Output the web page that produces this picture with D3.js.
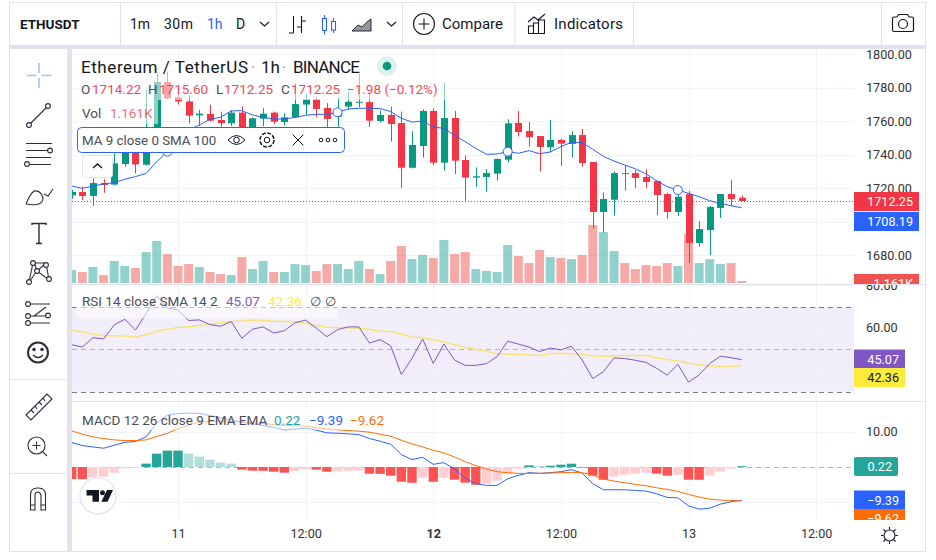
<!DOCTYPE html>
<html>
<head>
<meta charset="utf-8">
<script src="https://cdnjs.cloudflare.com/ajax/libs/d3/7.8.5/d3.min.js"></script>
<style>
  html, body { margin: 0; padding: 0; background: #fff; }
  svg { display: block; font-family: Roboto, sans-serif; }
  .axis text { font-family: Roboto, sans-serif; font-size: 12.6px; fill: #333; }
  .axis .domain, .axis line { display: none; }
</style>
</head>
<body>
<div id="chart"></div>
<script>
// hours counted from 11 00:00, one candle per hour
const hours = d3.range(-10, 54);

const opens = [1715.6,1717.6,1715.2,1723.0,1722.0,1734.3,1741.1,1733.9,1741.7,1783.3,1774.1,1771.7,1763.4,1764.2,1760.6,1758.6,1765.0,1755.6,1761.4,1765.0,1759.4,1762.2,1769.8,1772.9,1767.8,1762.6,1768.6,1770.9,1771.3,1760.0,1763.6,1758.8,1732.1,1745.1,1766.0,1735.1,1761.8,1736.7,1726.2,1726.6,1728.6,1736.9,1758.8,1754.0,1751.0,1744.3,1748.7,1746.3,1751.6,1735.5,1705.7,1713.0,1728.9,1728.9,1726.6,1724.2,1716.4,1705.7,1716.4,1687.2,1694.9,1708.1,1716.4,1714.22];
const closes = [1717.6,1715.2,1723.0,1721.8,1734.7,1741.1,1734.1,1741.1,1783.3,1773.5,1771.7,1763.2,1764.4,1760.2,1758.8,1765.0,1756.0,1761.6,1764.4,1759.6,1762.2,1770.1,1772.9,1767.2,1761.2,1766.6,1771.5,1771.5,1760.2,1763.6,1758.2,1732.1,1745.7,1766.0,1735.1,1761.8,1736.3,1726.2,1727.0,1728.9,1737.3,1758.6,1753.4,1750.4,1744.5,1748.7,1746.5,1751.6,1734.9,1705.7,1713.4,1728.9,1728.4,1726.0,1723.6,1715.8,1705.7,1714.8,1687.2,1695.5,1708.7,1716.4,1713.4,1712.25];
const highs = [1718.8,1720.8,1725.8,1725.2,1740.7,1744.7,1743.7,1778.5,1788.5,1789.5,1779.7,1775.5,1766.6,1769.6,1765.6,1766.6,1768.6,1762.2,1767.6,1765.6,1764.6,1782.5,1776.5,1774.1,1770.6,1774.1,1777.3,1788.5,1776.5,1766.2,1768.6,1765.6,1754.0,1767.0,1767.6,1782.9,1766.0,1739.5,1732.3,1731.3,1737.7,1761.0,1766.0,1759.4,1751.0,1760.6,1749.4,1754.0,1755.2,1735.5,1717.4,1729.9,1733.7,1730.8,1731.1,1724.2,1717.2,1720.8,1718.2,1700.3,1709.3,1716.4,1724.8,1715.6];
const lows = [1713.6,1712.8,1709.4,1717.2,1721.6,1732.7,1728.7,1733.5,1741.1,1773.1,1769.8,1758.6,1757.0,1759.6,1756.6,1757.0,1754.6,1754.6,1757.0,1758.2,1757.4,1761.6,1763.6,1762.2,1756.0,1756.6,1766.6,1768.2,1756.6,1759.0,1747.7,1720.0,1731.7,1738.1,1733.7,1730.4,1728.4,1711.8,1720.6,1717.8,1724.4,1735.3,1750.7,1744.7,1729.8,1741.3,1733.3,1738.1,1732.7,1695.7,1693.3,1703.5,1718.4,1720.0,1720.0,1703.9,1701.5,1703.3,1675.2,1685.0,1680.0,1702.1,1709.4,1712.25];
// volume in thousands
const volumes = [7.5,6.4,9.3,4.6,12.8,9.9,8.7,18.0,24.4,16.8,9.9,11.0,9.3,6.4,5.2,4.6,15.1,8.1,12.8,6.4,6.4,11.0,10.4,7.0,11.0,11.0,8.1,12.8,8.1,5.2,12.8,21.5,13.9,16.3,14.5,25.0,16.8,18.0,8.1,7.0,6.4,22.1,15.7,11.6,19.2,15.1,14.5,13.9,16.3,33.7,29.6,18.6,11.6,8.1,10.4,9.9,11.6,9.9,28.4,11.6,13.9,11.0,11.6,1.161];
const maValues = [1721.2,1719.8,1721.2,1722.4,1723.2,1725.2,1726.8,1728.7,1735.7,1741.7,1748.7,1754.6,1757.6,1761.0,1762.2,1766.0,1766.2,1763.6,1762.2,1761.2,1761.2,1762.2,1763.4,1764.0,1764.0,1765.2,1767.2,1767.6,1767.6,1767.4,1765.6,1761.6,1759.4,1760.0,1756.4,1755.6,1751.4,1747.7,1743.7,1740.1,1740.3,1741.7,1740.7,1742.3,1740.5,1741.5,1744.7,1747.3,1747.1,1743.1,1738.9,1736.1,1733.7,1731.5,1728.4,1724.4,1720.8,1718.8,1716.8,1714.8,1712.4,1710.9,1709.4,1708.19];
const rsiValues = [52.1,51.0,55.4,54.9,61.4,64.1,59.0,66.7,75.1,69.4,68.4,63.5,63.8,61.6,60.8,63.0,55.2,59.4,60.5,57.6,58.7,62.4,63.7,59.9,55.9,59.2,60.5,60.5,52.9,54.5,51.6,38.1,45.7,54.8,43.3,52.4,44.9,42.4,42.4,43.2,46.5,53.8,52.4,51.0,48.9,50.5,49.7,51.4,44.9,36.2,39.4,45.9,45.6,44.8,43.8,41.0,37.8,42.9,34.5,37.9,43.3,46.7,46.0,45.07];
const rsiSma = [58.9,58.1,57.1,56.3,56.3,56.2,55.6,56.8,58.4,59.4,60.2,60.6,61.1,61.6,62.4,63.0,63.3,63.7,63.5,63.2,63.0,62.9,62.2,61.1,60.3,60.2,60.0,59.9,59.4,58.6,58.3,57.0,55.7,55.4,54.4,53.5,52.1,50.8,50.0,49.0,47.8,47.6,47.6,47.3,47.0,47.9,48.1,47.9,47.6,46.8,46.7,46.8,47.0,47.0,47.0,46.0,45.1,44.6,43.5,42.7,42.1,41.9,41.9,42.36];
const macdLine = [6.92,6.07,5.69,5.31,6.16,7.01,7.20,8.53,12.51,14.69,15.17,15.26,15.17,14.60,13.93,13.27,12.70,12.23,11.75,11.18,10.52,10.71,11.00,10.43,9.67,9.57,9.38,9.19,8.06,7.30,6.45,3.51,2.09,2.75,0.76,1.23,-0.57,-3.13,-4.74,-5.21,-5.21,-3.32,-2.37,-1.61,-1.80,-1.61,-1.33,-0.76,-1.71,-4.74,-6.45,-6.45,-6.45,-6.64,-6.82,-7.58,-8.63,-8.72,-11.00,-11.94,-11.66,-10.52,-9.86,-9.39];
const signalLine = [10.24,9.29,8.53,8.06,7.68,7.49,7.49,7.68,8.63,9.57,10.81,11.94,12.70,12.89,12.99,12.89,12.80,12.51,12.32,12.04,11.75,11.66,11.56,11.09,10.81,10.52,10.33,10.14,9.86,9.29,8.72,7.58,6.54,5.69,4.74,3.98,2.84,1.52,0.38,-0.57,-1.33,-1.61,-1.80,-1.80,-1.80,-1.71,-1.61,-1.52,-1.61,-2.27,-3.41,-3.98,-4.45,-4.93,-5.31,-5.88,-6.35,-6.92,-7.77,-8.53,-9.10,-9.38,-9.48,-9.62];
const histogram = [-3.41,-3.45,-2.94,-2.75,-1.61,-0.38,-0.30,0.95,3.79,4.64,4.65,3.79,2.94,2.09,1.23,0.95,-0.76,-1.04,-1.08,-1.33,-1.61,-1.04,-0.66,-0.76,-1.33,-1.30,-1.04,-1.00,-1.90,-1.95,-2.46,-4.17,-4.45,-3.03,-4.17,-3.03,-3.60,-4.45,-5.02,-4.74,-3.89,-1.90,-0.47,0.47,0.28,0.38,0.66,0.95,-0.19,-2.46,-3.60,-2.75,-2.18,-1.90,-1.61,-1.90,-2.46,-2.18,-3.60,-3.62,-2.46,-1.33,-0.47,0.22];

const priceGridTicks = [1680, 1700, 1720, 1740, 1760, 1780, 1800];
const priceLabelTicks = [1680, 1720, 1740, 1760, 1780, 1800]; // 1700 sits under the blue tag
const rsiTicks = [40, 60, 80];
const macdTicks = [-10, 10];
const timeTicks = [0, 12, 24, 36, 48, 60];
const timeLabels = ["11", "12:00", "12", "12:00", "13", "12:00"];
const maMarkerEvery = 16;

const UP = "#089981", DOWN = "#f23645", GRID = "#f0f3fa", BAND = "#e0e3eb", INK = "#131722", SOFT = "#4a4d57";
const PLOT_LEFT = 72, PLOT_RIGHT = 854, AXIS_RIGHT = 924;
const PRICE_TOP = 49, PRICE_BOTTOM = 284, RSI_BOTTOM = 401, MACD_TOP = 402, MACD_BOTTOM = 520;

const svg = d3.select("#chart").append("svg").attr("width", 936).attr("height", 560);

const x = d3.scaleLinear().domain([0, 48]).range([178, 688.5]);
const yPrice = d3.scaleLinear().domain([1680, 1800]).range([255, 54]);
const yVolume = d3.scaleLinear().domain([0, 100]).range([283, 111]);
const yRsi = d3.scaleLinear().domain([30, 70]).range([391.7, 306.7]);
const yMacd = d3.scaleLinear().domain([-10, 10]).range([502.3, 431.7]);

const defs = svg.append("defs");
function addClip(id, x0, y0, x1, y1) {
  defs.append("clipPath").attr("id", id).append("rect").attr("x", x0).attr("y", y0).attr("width", x1 - x0).attr("height", y1 - y0);
}
addClip("clip-price", PLOT_LEFT, PRICE_TOP, PLOT_RIGHT, PRICE_BOTTOM);
addClip("clip-rsi", PLOT_LEFT, PRICE_BOTTOM, PLOT_RIGHT, RSI_BOTTOM);
addClip("clip-macd", PLOT_LEFT, MACD_TOP, PLOT_RIGHT, MACD_BOTTOM);
addClip("clip-axis-price", PLOT_RIGHT, PRICE_TOP, AXIS_RIGHT, PRICE_BOTTOM);
addClip("clip-axis-rsi", PLOT_RIGHT, PRICE_BOTTOM, AXIS_RIGHT, RSI_BOTTOM);
addClip("clip-axis-macd", PLOT_RIGHT, MACD_TOP, AXIS_RIGHT, MACD_BOTTOM);

function text(g, px, py, str, fill, size, anchor, weight) {
  return g.append("text").attr("x", px).attr("y", py).attr("fill", fill || INK)
    .attr("font-size", size || 13).attr("text-anchor", anchor || "start")
    .attr("font-weight", weight || "normal").text(str);
}

function line(g, x1, y1, x2, y2, stroke, w, dash) {
  return g.append("line").attr("x1", x1).attr("y1", y1).attr("x2", x2).attr("y2", y2)
    .attr("stroke", stroke || INK).attr("stroke-width", w || 1).attr("stroke-dasharray", dash || null);
}

// panes: grids first so the marks sit on top
function hGrid(g, scale, ticks) {
  g.selectAll("line.grid").data(ticks).enter().append("line").attr("class", "grid")
    .attr("x1", PLOT_LEFT).attr("x2", PLOT_RIGHT)
    .attr("y1", (d) => Math.round(scale(d)) + 0.5).attr("y2", (d) => Math.round(scale(d)) + 0.5)
    .attr("stroke", GRID);
}
function vGrid(g, y0, y1) {
  g.selectAll("line.vgrid").data(timeTicks).enter().append("line").attr("class", "vgrid")
    .attr("x1", (d) => Math.round(x(d)) + 0.5).attr("x2", (d) => Math.round(x(d)) + 0.5)
    .attr("y1", y0).attr("y2", y1).attr("stroke", GRID);
}

// ---- price pane
const pricePane = svg.append("g").attr("clip-path", "url(#clip-price)");
hGrid(pricePane, yPrice, priceGridTicks);
vGrid(pricePane, PRICE_TOP, PRICE_BOTTOM);

pricePane.selectAll("rect.vol").data(hours).enter().append("rect").attr("class", "vol")
  .attr("x", (h) => x(h) - 4.5).attr("width", 9)
  .attr("y", (h, i) => yVolume(volumes[i])).attr("height", (h, i) => yVolume(0) - yVolume(volumes[i]))
  .attr("fill", (h, i) => (closes[i] >= opens[i] ? "#26a69a" : "#ef5350")).attr("opacity", 0.5);

const candles = pricePane.selectAll("g.candle").data(hours).enter().append("g").attr("class", "candle");
candles.append("line")
  .attr("x1", (h) => Math.round(x(h)) + 0.5).attr("x2", (h) => Math.round(x(h)) + 0.5)
  .attr("y1", (h, i) => yPrice(highs[i])).attr("y2", (h, i) => yPrice(lows[i]))
  .attr("stroke", (h, i) => (closes[i] >= opens[i] ? UP : DOWN));
candles.append("rect")
  .attr("x", (h) => Math.round(x(h)) - 3).attr("width", 7)
  .attr("y", (h, i) => yPrice(Math.max(opens[i], closes[i])))
  .attr("height", (h, i) => Math.max(1, Math.abs(yPrice(opens[i]) - yPrice(closes[i]))))
  .attr("fill", (h, i) => (closes[i] >= opens[i] ? UP : DOWN));

const lineOf = (values, scale) => d3.line().x((h) => x(h)).y((h, i) => scale(values[i]))(hours);

pricePane.append("path").attr("d", lineOf(maValues, yPrice)).attr("fill", "none").attr("stroke", "#2962ff").attr("stroke-width", 1);
pricePane.selectAll("circle.ma-marker").data(hours.filter((h, i) => (i + 7) % maMarkerEvery === 0)).enter()
  .append("circle").attr("class", "ma-marker")
  .attr("cx", (h) => x(h)).attr("cy", (h) => yPrice(maValues[hours.indexOf(h)])).attr("r", 4.5)
  .attr("fill", "#fff").attr("stroke", "#2962ff").attr("stroke-width", 1);
line(pricePane, PLOT_LEFT, Math.round(yPrice(closes[closes.length - 1])) + 0.5, PLOT_RIGHT, Math.round(yPrice(closes[closes.length - 1])) + 0.5, DOWN, 1, "1 2");

// legend of the price pane, with the usual half see-through backing
const veil = svg.append("g").attr("fill", "#fff").attr("opacity", 0.55);
veil.append("rect").attr("x", 76).attr("y", 54).attr("width", 326).attr("height", 26);
veil.append("rect").attr("x", 76).attr("y", 80).attr("width", 369).attr("height", 20);
veil.append("rect").attr("x", 76).attr("y", 100).attr("width", 82).attr("height", 24);

const legend = svg.append("g");
text(legend, 81, 72.5, "Ethereum / TetherUS", INK, 17).attr("textLength", 167);
text(legend, 251, 72.5, "·", "#9598a1", 16);
text(legend, 261, 72.5, "1h", INK, 17);
text(legend, 282, 72.5, "·", "#9598a1", 16);
text(legend, 293, 72.5, "BINANCE", INK, 17).attr("textLength", 67);
legend.append("circle").attr("cx", 387).attr("cy", 66).attr("r", 10).attr("fill", "#089981").attr("opacity", 0.14);
legend.append("circle").attr("cx", 387).attr("cy", 66).attr("r", 4.3).attr("fill", UP);

[["O", 81, "1714.22", 92], ["H", 148, "1715.60", 159], ["L", 216, "1712.25", 224], ["C", 281, "1712.25", 291]].forEach(([k, kx, v, vx]) => {
  text(legend, kx, 94, k, SOFT, 13.5);
  text(legend, vx, 94, v, DOWN, 13.5).attr("opacity", 0.9);
});
text(legend, 347, 94, "−1.98 (−0.12%)", DOWN, 13.5).attr("opacity", 0.9);
text(legend, 82, 118, "Vol", SOFT, 13.5);
text(legend, 110, 118, "1.161K", DOWN, 13.5).attr("opacity", 0.75);

legend.append("rect").attr("x", 77.5).attr("y", 127.5).attr("width", 267).attr("height", 25).attr("rx", 4)
  .attr("fill", "#fff").attr("stroke", "#2962ff");
text(legend, 82, 145, "MA 9 close 0 SMA 100", SOFT, 13.3);

// eye, gear, cross and dots of the selected study
const studyIcons = legend.append("g").attr("fill", "none").attr("stroke", INK).attr("stroke-width", 1);
studyIcons.append("path").attr("d", "M228 140q8.5-9 17 0q-8.5 9-17 0z");
studyIcons.append("circle").attr("cx", 236.5).attr("cy", 140).attr("r", 2.8);
studyIcons.append("circle").attr("cx", 267).attr("cy", 140).attr("r", 7).attr("stroke-width", 1.5).attr("stroke-dasharray", "4 1.5");
studyIcons.append("circle").attr("cx", 267).attr("cy", 140).attr("r", 2.8);
studyIcons.append("path").attr("d", "M292.5 134.5l11 11m0-11l-11 11");
[321, 328, 335].forEach((c) => studyIcons.append("circle").attr("cx", c).attr("cy", 140).attr("r", 1.8));

legend.append("rect").attr("x", 82.5).attr("y", 155.5).attr("width", 30).attr("height", 22).attr("rx", 3)
  .attr("fill", "#fff").attr("stroke", "#e0e3eb");
legend.append("path").attr("d", "M93 168l4.5-4l4.5 4").attr("fill", "none").attr("stroke", INK).attr("stroke-width", 1.4);

// ---- RSI pane
const rsiPane = svg.append("g").attr("clip-path", "url(#clip-rsi)");
rsiPane.append("rect").attr("x", PLOT_LEFT).attr("width", PLOT_RIGHT - PLOT_LEFT)
  .attr("y", yRsi(70)).attr("height", yRsi(30) - yRsi(70)).attr("fill", "#7e57c2").attr("opacity", 0.1);
hGrid(rsiPane, yRsi, rsiTicks);
vGrid(rsiPane, PRICE_BOTTOM, RSI_BOTTOM);
line(rsiPane, PLOT_LEFT, Math.round(yRsi(70)) + 0.5, PLOT_RIGHT, Math.round(yRsi(70)) + 0.5, "#787b86", 1, "5 4");
line(rsiPane, PLOT_LEFT, Math.round(yRsi(50)) + 0.5, PLOT_RIGHT, Math.round(yRsi(50)) + 0.5, "#b2b5be", 1, "5 4");
line(rsiPane, PLOT_LEFT, Math.round(yRsi(30)) + 0.5, PLOT_RIGHT, Math.round(yRsi(30)) + 0.5, "#787b86", 1, "5 4");
rsiPane.append("path").attr("d", lineOf(rsiSma, yRsi)).attr("fill", "none").attr("stroke", "#f6e27a").attr("stroke-width", 1.5);
rsiPane.append("path").attr("d", lineOf(rsiValues, yRsi)).attr("fill", "none").attr("stroke", "#7e57c2").attr("stroke-width", 1);

svg.append("rect").attr("x", 76).attr("y", 296).attr("width", 262).attr("height", 22).attr("fill", "#fff").attr("opacity", 0.55);
text(svg, 82, 306, "RSI 14 close SMA 14 2", SOFT, 13.5);
text(svg, 226, 306, "45.07", "#7e57c2", 13.5);
text(svg, 268, 306, "42.36", "#ffeb3b", 13.5);
text(svg, 310, 306, "∅", SOFT, 13);
text(svg, 325, 306, "∅", SOFT, 13);

// ---- MACD pane
const macdPane = svg.append("g").attr("clip-path", "url(#clip-macd)");
hGrid(macdPane, yMacd, macdTicks);
vGrid(macdPane, MACD_TOP, MACD_BOTTOM);
line(macdPane, PLOT_LEFT, Math.round(yMacd(0)) + 0.5, PLOT_RIGHT, Math.round(yMacd(0)) + 0.5, "#b2b5be", 1, "5 4");

function histColor(d, i) {
  const prev = i > 0 ? histogram[i - 1] : d + 1;
  if (d >= 0) return d > prev ? "#26a69a" : "#b2dfdb";
  return d < prev ? "#ff5252" : "#ffcdd2";
}
macdPane.selectAll("rect.hist").data(histogram).enter().append("rect").attr("class", "hist")
  .attr("x", (d, i) => x(hours[i]) - 4.7).attr("width", 9.4)
  .attr("y", (d) => Math.min(yMacd(0), yMacd(d))).attr("height", (d) => Math.abs(yMacd(d) - yMacd(0)))
  .attr("fill", histColor);
macdPane.append("path").attr("d", lineOf(macdLine, yMacd)).attr("fill", "none").attr("stroke", "#2962ff").attr("stroke-width", 1);
macdPane.append("path").attr("d", lineOf(signalLine, yMacd)).attr("fill", "none").attr("stroke", "#ff6d00").attr("stroke-width", 1);

svg.append("rect").attr("x", 76).attr("y", 409).attr("width", 314).attr("height", 21).attr("fill", "#fff").attr("opacity", 0.55);
text(svg, 82, 425, "MACD 12 26 close 9 EMA EMA", SOFT, 13.5);
text(svg, 274, 425, "0.22", "#26a69a", 13.5);
text(svg, 309, 425, "−9.39", "#2962ff", 13.5);
text(svg, 350, 425, "−9.62", "#ff6d00", 13.5);

// TradingView badge
const badge = svg.append("g");
badge.append("circle").attr("cx", 98).attr("cy", 496).attr("r", 18).attr("fill", "#fff").attr("stroke", "#e0e3eb").attr("stroke-width", 1.2);
badge.append("path").attr("fill", INK).attr("d", "M86.500 490H99V501.700H92.500V495.500H86.500zM107 490h6l-5.500 11.700h-6.200z");
badge.append("circle").attr("cx", 102.500).attr("cy", 492.700).attr("r", 2.500).attr("fill", INK);

// ---- axes, clipped to their own pane
const axisPrice = svg.append("g").attr("clip-path", "url(#clip-axis-price)").append("g")
  .attr("class", "axis").attr("transform", "translate(863,0)")
  .call(d3.axisRight(yPrice).tickValues(priceLabelTicks).tickSize(0).tickFormat(d3.format(".2f")));
const axisRsi = svg.append("g").attr("clip-path", "url(#clip-axis-rsi)").append("g")
  .attr("class", "axis").attr("transform", "translate(863,0)")
  .call(d3.axisRight(yRsi).tickValues([60, 80]).tickSize(0).tickFormat(d3.format(".2f")));
const axisMacd = svg.append("g").attr("clip-path", "url(#clip-axis-macd)").append("g")
  .attr("class", "axis").attr("transform", "translate(863,0)")
  .call(d3.axisRight(yMacd).tickValues([10]).tickSize(0).tickFormat(d3.format(".2f")));
const axisTime = svg.append("g").attr("class", "axis").attr("transform", "translate(0,526)")
  .call(d3.axisBottom(x).tickValues(timeTicks).tickSize(0).tickFormat((d, i) => timeLabels[i]));
axisTime.selectAll("text").attr("font-weight", (d, i) => (timeLabels[i] === "12" ? "bold" : "normal"));

// last-value tags on the right; tags that would collide are pushed apart, so they take a centre of their own
function tag(clip, cy, fill, color, width, str, rounded) {
  const g = svg.append("g").attr("clip-path", clip);
  g.append("rect").attr("x", PLOT_RIGHT).attr("y", cy - 9.5).attr("width", width).attr("height", 19)
    .attr("fill", fill).attr("rx", rounded ? 2 : 0);
  g.append("text").attr("x", PLOT_RIGHT + width - 6).attr("y", cy + 4.5).attr("text-anchor", "end")
    .attr("font-size", 12.6).attr("fill", color).text(str);
}
tag("url(#clip-axis-price)", 201.5, DOWN, "#fff", 65, "1712.25");
tag("url(#clip-axis-price)", 221.5, "#2962ff", "#fff", 65, "1708.19");
tag("url(#clip-axis-price)", 283.5, "#ef5350", "#fff", 65, "1.161K");
tag("url(#clip-axis-rsi)", 359, "#7e57c2", "#fff", 51, "45.07");
tag("url(#clip-axis-rsi)", 377.5, "#ffeb3b", INK, 51, "42.36");
tag("url(#clip-axis-macd)", 466.5, "#26a69a", "#fff", 44, "0.22", true);
tag("url(#clip-axis-macd)", 500, "#2962ff", "#fff", 51, "−9.39");
tag("url(#clip-axis-macd)", 518.5, "#ff6d00", "#fff", 51, "−9.62");

// ---- frame and toolbars
svg.append("rect").attr("x", 67).attr("y", 45).attr("width", 5).attr("height", 507).attr("fill", BAND);
svg.append("rect").attr("x", 10).attr("y", 45).attr("width", 916).attr("height", 4).attr("fill", BAND);
line(svg, 72, 284.5, 925, 284.5, BAND);
line(svg, 72, 401.5, 925, 401.5, BAND);
svg.append("rect").attr("x", 9.5).attr("y", 2.5).attr("width", 916).attr("height", 549).attr("fill", "none").attr("stroke", BAND);
[120, 276, 402, 514.5, 633, 881].forEach((d) => line(svg, d + 0.5, 3, d + 0.5, 45, BAND));
line(svg, 10, 379.5, 67, 379.5, BAND);
line(svg, 10, 473.5, 67, 473.5, BAND);

const topBar = svg.append("g");
text(topBar, 20, 29, "ETHUSDT", INK, 13.5, "start", "bold");
text(topBar, 130, 29, "1m", INK, 14).attr("textLength", 20);
text(topBar, 164, 29, "30m", INK, 14).attr("textLength", 29);
text(topBar, 207, 29, "1h", "#2962ff", 14);
text(topBar, 236, 29, "D", INK, 14);
text(topBar, 442, 29, "Compare", INK, 15).attr("textLength", 61);
text(topBar, 554, 29, "Indicators", INK, 15).attr("textLength", 69);

const topIcons = topBar.append("g").attr("fill", "none").attr("stroke", INK).attr("stroke-width", 1.1);
topIcons.append("path").attr("d", "M260 22l4.5 4l4.5-4M387 22l4.5 4l4.5-4");
topIcons.append("path").attr("d", "M293.5 16v17M289 33h4.5M301.5 16v17M301.5 21h4.5M297 27h4.5");
topIcons.append("g").attr("stroke", "#2962ff").call((g) => {
  g.append("rect").attr("x", 322.5).attr("y", 18.5).attr("width", 4).attr("height", 12);
  g.append("path").attr("d", "M324.5 15v3.5M324.5 30.5v4M333.5 18v3M333.5 30v3");
  g.append("rect").attr("x", 331.5).attr("y", 21.5).attr("width", 4).attr("height", 8.5);
});
topIcons.append("path").attr("fill", "#9598a1").attr("stroke-width", 0.9).attr("d", "M352 31l6-6l4 2l5-5l4-3v12z");
topIcons.append("circle").attr("cx", 424).attr("cy", 24).attr("r", 10.5);
topIcons.append("path").attr("d", "M424 18.5v11M418.5 24h11");
topIcons.append("path").attr("d", "M528.5 33v-7h5v7M533.5 33v-10h5v10M538.5 33v-13h6v13M528 33.5h17M528 22l6-5l4 3l7-6");
topIcons.append("path").attr("stroke-width", 1.2).attr("d", "M892.5 18.5q0-1.5 1.5-1.5h3l1.5-2.5h9l1.5 2.5h3q1.5 0 1.5 1.5v11.5q0 1.5-1.5 1.5h-18q-1.5 0-1.5-1.5z");
topIcons.append("circle").attr("cx", 903).attr("cy", 24).attr("r", 4.5).attr("stroke-width", 1.2);

// left drawing tools
const tools = svg.append("g").attr("fill", "none").attr("stroke", "#2a2e39").attr("stroke-width", 1.1);
const knob = (px, py) => tools.append("circle").attr("cx", px).attr("cy", py).attr("r", 2.4).attr("fill", "#fff");
tools.append("path").attr("stroke", "#a8bdf0").attr("stroke-width", 1.6).attr("d", "M39 63v10M39 78v10M26.500 75.500h10M41.500 75.500h10");
tools.append("path").attr("d", "M30 124l17-17"); knob(29, 125); knob(48, 106);
tools.append("path").attr("d", "M26 143.500h26M26 150.500h22M26 157.500h25M30 164.500h21"); knob(50, 150.5); knob(27, 164);
tools.append("path").attr("d", "M26 204q17 3 17-6q-2-8-9-7q-4 3-8 13M44 194l4 2l5-7");
tools.append("path").attr("stroke-width", 1.4).attr("d", "M32 225v-1.500h14v1.500M39 224v20M36 243.500h6");
tools.append("path").attr("d", "M29 282l4-19l13-0l3 17M34 262l3 9l12 9M46 263l-9 8l-8 11"); knob(29, 282); knob(33, 263); knob(46, 265); knob(37, 271); knob(49, 279);
tools.append("path").attr("d", "M30 304h20M30 316h16M30 323h20M34 316l12-9").attr("stroke-width", 1.1);
knob(28, 304); knob(28, 316); knob(48, 315.5); knob(28, 323);
tools.append("circle").attr("cx", 38).attr("cy", 352.500).attr("r", 10).attr("stroke-width", 2);
tools.append("path").attr("stroke-width", 1.6).attr("d", "M33 355q5 5 10 0");
tools.append("circle").attr("cx", 34).attr("cy", 349.500).attr("r", 1.2).attr("fill", "#2a2e39");
tools.append("circle").attr("cx", 42).attr("cy", 349.500).attr("r", 1.2).attr("fill", "#2a2e39");
tools.append("path").attr("d", "M26 415l21-21l5 5l-21 21zM31 410l3 3M35 406l2 3M39 402l3 3M43 398l2 3");
tools.append("circle").attr("cx", 36.500).attr("cy", 445.500).attr("r", 8.500);
tools.append("path").attr("d", "M32.500 445.500h8M36.500 441.500v8M43 452l4 4");
tools.append("path").attr("d", "M30.500 510v-15q0-7 7-7h1q7 0 7 7v15h-4.500v-15q-1-3-3-3q-3 0-3 3v15zM30.500 505h4.500M41 505h4.500");
// settings sun in the corner of the time axis
tools.append("circle").attr("cx", 889.500).attr("cy", 535.500).attr("r", 5.500).attr("stroke", INK);
tools.append("path").attr("stroke", INK).attr("d", "M889.500 527v2.500M889.500 541.500v2.500M881 535.500h2.500M895.500 535.500h2.500M883.500 529.500l2 2M893.500 539.500l2 2M883.500 541.500l2-2M893.500 531.500l2-2");
</script>
</body>
</html>
